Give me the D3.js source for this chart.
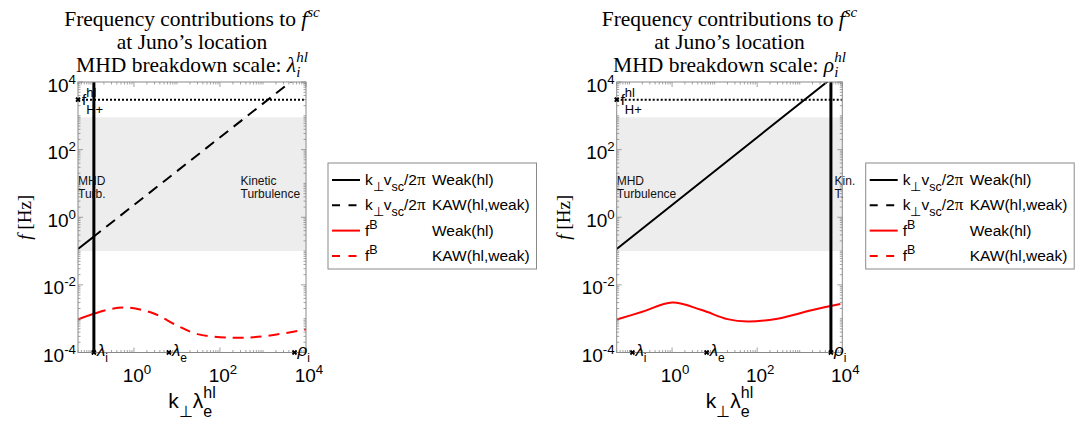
<!DOCTYPE html>
<html>
<head>
<meta charset="utf-8">
<script src="https://cdn.jsdelivr.net/npm/d3@7"></script>
<style>
  body { margin: 0; background: #fff; }
  svg { display: block; }
</style>
</head>
<body>
<div id="chart"></div>
<script>
// axis ranges and ticks
const xDomain = [0.05, 1e4];
const yDomain = [1e-4, 1e4];
const xTickValues = [1e0, 1e2, 1e4];
const yTickValues = [1e-4, 1e-2, 1e0, 1e2, 1e4];

// shaded turbulence band and H+ cyclotron frequency
const turbBand = [0.1, 900];
const fHplus = 3000;

// characteristic scales (k_perp * lambda_e)
const scaleNames = ["λ", "λ", "ρ"];
const scaleSubs = ["i", "e", "i"];
const scaleValues = [0.117, 6.5, 5400];

// k_perp v_sc / 2pi (Doppler shifted frequency)
const kvX = [0.05, 0.117, 5400];
const kvF = [0.115, 0.27, 12400];

// f^B curves
const redLeftX = [0.05, 0.117, 0.3, 0.8, 3, 10, 30, 200, 1000, 1e4];
const redLeftF = [9.5e-4, 1.4e-3, 1.95e-3, 2.1e-3, 1.4e-3, 6.3e-4, 3.5e-4, 2.75e-4, 3e-4, 4.8e-4];
const redRightX = [0.05, 0.2, 1, 5, 20, 60, 300, 2000, 9000];
const redRightF = [9.5e-4, 1.6e-3, 3e-3, 1.8e-3, 9.7e-4, 8.3e-4, 1e-3, 1.8e-3, 2.7e-3];

// legend text
const legendCol2 = ["Weak(hl)", "KAW(hl,weak)", "Weak(hl)", "KAW(hl,weak)"];

const SANS = "'Liberation Sans', Arial, Helvetica, sans-serif";
const SERIF = "'Liberation Serif', 'Times New Roman', serif";

const svg = d3.select("#chart").append("svg")
    .attr("width", 1084)
    .attr("height", 424)
    .style("background", "#fff");

// writes a run of text pieces into a <text>; pos is base / sup / sub,
// stack=true puts the piece under the previous one (sub below sup)
function rich(text, parts, size, o = {}) {
    const supOff = o.sup || -0.42 * size, subOff = o.sub || 0.32 * size, small = o.small || size * 0.7;
    let cur = 0, prev = null;
    parts.forEach(p => {
        const pos = p.pos || "base";
        const off = pos === "sup" ? supOff : pos === "sub" ? subOff : 0;
        const ts = text.append("tspan").attr("dy", off - cur).text(p.t);
        if (pos !== "base") ts.attr("font-size", small);
        if (p.italic) ts.attr("font-style", "italic");
        if (p.stack && prev) ts.attr("dx", -prev.node().getComputedTextLength());
        cur = off;
        prev = ts;
    });
    return text;
}

function drawPanel(cfg) {
    const x0 = cfg.left, x1 = cfg.right, yTop = 82, yBot = 352.5;
    const x = d3.scaleLog().domain(xDomain).range([x0, x1]);
    const y = d3.scaleLog().domain(yDomain).range([yBot, yTop]);
    const g = svg.append("g");

    const clipId = "clip-" + cfg.id;
    g.append("clipPath").attr("id", clipId)
      .append("rect").attr("x", x0).attr("y", yTop).attr("width", x1 - x0).attr("height", yBot - yTop);
    // solid region (x <= break) and dashed region (x > break)
    g.append("clipPath").attr("id", clipId + "-a")
      .append("rect").attr("x", x0).attr("y", yTop).attr("width", x(cfg.breakX) - x0).attr("height", yBot - yTop);
    g.append("clipPath").attr("id", clipId + "-b")
      .append("rect").attr("x", x(cfg.breakX)).attr("y", yTop).attr("width", Math.max(0, x1 - x(cfg.breakX))).attr("height", yBot - yTop);

    // gray band
    g.append("rect")
        .attr("x", x0).attr("width", x1 - x0)
        .attr("y", y(turbBand[1])).attr("height", y(turbBand[0]) - y(turbBand[1]))
        .attr("fill", "#ededed");

    const plot = g.append("g").attr("clip-path", `url(#${clipId})`);

    // H+ cyclotron frequency
    plot.append("line")
        .attr("x1", x0).attr("x2", x1)
        .attr("y1", y(fHplus)).attr("y2", y(fHplus))
        .attr("stroke", "#000").attr("stroke-width", 2).attr("stroke-dasharray", "2,2");

    const kvLine = d3.line().x((d, i) => x(kvX[i])).y(d => y(d));
    const redLine = d3.line().x(d => x(d[0])).y(d => y(d[1])).curve(d3.curveCatmullRom.alpha(0.5));
    const redPts = cfg.redX.map((v, i) => [v, cfg.redF[i]]);

    [["a", null], ["b", "11,7"]].forEach(([part, dash]) => {
        const sub = plot.append("g").attr("clip-path", `url(#${clipId}-${part})`);
        sub.append("path").attr("d", kvLine(kvF))
            .attr("fill", "none").attr("stroke", "#000").attr("stroke-width", 2)
            .attr("stroke-dasharray", dash);
        sub.append("path").attr("d", redLine(redPts))
            .attr("fill", "none").attr("stroke", "#ff0000").attr("stroke-width", 2)
            .attr("stroke-dasharray", dash);
    });

    // MHD breakdown scale
    plot.append("line")
        .attr("x1", x(cfg.breakLine)).attr("x2", x(cfg.breakLine))
        .attr("y1", yTop).attr("y2", yBot)
        .attr("stroke", "#000").attr("stroke-width", 3);

    // region annotations
    cfg.notes.forEach(n => {
        const t = g.append("text").attr("x", x(n.x)).attr("y", y(9))
            .attr("font-family", SANS).attr("font-size", 12).attr("fill", "#111");
        t.append("tspan").attr("x", x(n.x)).text(n.l1);
        t.append("tspan").attr("x", x(n.x)).attr("dy", 13).text(n.l2);
    });

    // axes box and ticks
    const axisColor = "#8a8a8a";
    g.append("rect").attr("x", x0).attr("y", yTop).attr("width", x1 - x0).attr("height", yBot - yTop)
        .attr("fill", "none").attr("stroke", axisColor).attr("stroke-width", 1);

    const ticks = g.append("g").attr("stroke", axisColor).attr("stroke-width", 0.8);
    x.ticks(60).forEach(v => {
        const major = xTickValues.some(t => Math.abs(Math.log10(t / v)) < 1e-6);
        const len = major ? 5 : 2.5;
        ticks.append("line").attr("x1", x(v)).attr("x2", x(v)).attr("y1", yBot).attr("y2", yBot - len);
        ticks.append("line").attr("x1", x(v)).attr("x2", x(v)).attr("y1", yTop).attr("y2", yTop + len);
    });
    y.ticks(80).forEach(v => {
        const major = yTickValues.some(t => Math.abs(Math.log10(t / v)) < 1e-6);
        const len = major ? 5 : 2.5;
        ticks.append("line").attr("y1", y(v)).attr("y2", y(v)).attr("x1", x0).attr("x2", x0 + len);
        ticks.append("line").attr("y1", y(v)).attr("y2", y(v)).attr("x1", x1).attr("x2", x1 - len);
    });

    // tick labels
    xTickValues.forEach(v => {
        const t = g.append("text").attr("x", x(v) + 3).attr("y", yBot + 29)
            .attr("text-anchor", "middle").attr("font-family", SANS).attr("font-size", 19);
        rich(t, [{ t: "10" }, { t: String(Math.round(Math.log10(v))), pos: "sup" }], 19);
    });
    yTickValues.forEach(v => {
        const t = g.append("text").attr("x", x0 - 2).attr("y", y(v) + 9.5)
            .attr("text-anchor", "end").attr("font-family", SANS).attr("font-size", 19);
        rich(t, [{ t: "10" }, { t: String(Math.round(Math.log10(v))), pos: "sup" }], 19);
    });

    // scale markers along the bottom axis
    scaleValues.forEach((v, i) => {
        const px = x(v);
        g.append("path").attr("d", d3.symbol(d3.symbolCross, 18)())
            .attr("transform", `translate(${px},${yBot}) rotate(45)`).attr("fill", "#000");
        const t = g.append("text").attr("x", px + 3).attr("y", yBot + 3)
            .attr("font-family", SANS).attr("font-size", 17);
        rich(t, [{ t: scaleNames[i], italic: true }, { t: scaleSubs[i], pos: "sub" }], 17, { sub: 6, small: 12 });
    });

    // f_H+ marker and label
    g.append("path").attr("d", d3.symbol(d3.symbolCross, 18)())
        .attr("transform", `translate(${x0},${y(fHplus)}) rotate(45)`).attr("fill", "#000");
    const fl = g.append("text").attr("x", x0 + 4).attr("y", y(fHplus) + 5)
        .attr("font-family", SANS).attr("font-size", 15);
    rich(fl, [{ t: "f" }, { t: "hl", pos: "sup" }, { t: "H+", pos: "sub", stack: true }], 15,
         { sup: -8, sub: 9, small: 13 });

    // title
    const cx = (x0 + x1) / 2, tsz = 21.5;
    const t1 = g.append("text").attr("x", cx).attr("y", 26).attr("text-anchor", "middle")
        .attr("font-family", SERIF).attr("font-size", tsz);
    rich(t1, [{ t: "Frequency contributions to " }, { t: "f", italic: true }, { t: "sc", pos: "sup", italic: true }], tsz);
    g.append("text").attr("x", cx).attr("y", 49).attr("text-anchor", "middle")
        .attr("font-family", SERIF).attr("font-size", tsz).text("at Juno’s location");
    const t3 = g.append("text").attr("x", cx).attr("y", 72).attr("text-anchor", "middle")
        .attr("font-family", SERIF).attr("font-size", tsz);
    rich(t3, [{ t: "MHD breakdown scale: " }, { t: cfg.titleSym, italic: true },
              { t: "hl", pos: "sup", italic: true }, { t: "i", pos: "sub", italic: true, stack: true }], tsz,
         { sup: -10, sub: 5 });

    // axis labels
    const yl = g.append("text").attr("transform", `translate(${x0 - 47},${(yTop + yBot) / 2}) rotate(-90)`)
        .attr("text-anchor", "middle").attr("font-family", SERIF).attr("font-size", 19);
    rich(yl, [{ t: "f", italic: true }, { t: " [Hz]" }], 19);
    const xl = g.append("text").attr("x", cx).attr("y", 408).attr("text-anchor", "middle")
        .attr("font-family", SANS).attr("font-size", 21);
    rich(xl, [{ t: "k" }, { t: "⊥", pos: "sub" }, { t: "λ" }, { t: "hl", pos: "sup" }, { t: "e", pos: "sub", stack: true }], 21,
         { sup: -10, sub: 9, small: 16 });

    // legend
    const lx = cfg.legendX, ly = 163;
    const lg = svg.append("g");
    lg.append("rect").attr("x", lx).attr("y", ly).attr("width", 208.5).attr("height", 106)
        .attr("fill", "#fff").attr("stroke", "#8a8a8a").attr("stroke-width", 1);
    const rows = [
        { color: "#000", dash: null, kv: true },
        { color: "#000", dash: "8,8.5", kv: true },
        { color: "#ff0000", dash: null, kv: false },
        { color: "#ff0000", dash: "8,8.5", kv: false }
    ];
    rows.forEach((r, i) => {
        const ry = ly + 17 + i * 25.3;
        lg.append("line").attr("x1", lx + 4).attr("x2", lx + 32).attr("y1", ry).attr("y2", ry)
            .attr("stroke", r.color).attr("stroke-width", 2).attr("stroke-dasharray", r.dash);
        const t = lg.append("text").attr("x", lx + 37).attr("y", ry + 5)
            .attr("font-family", SANS).attr("font-size", 15.5);
        if (r.kv) {
            rich(t, [{ t: "k" }, { t: "⊥", pos: "sub" }, { t: "v" }, { t: "sc", pos: "sub" }, { t: "/2" }], 15.5,
                 { sub: 6, small: 12.5 });
            t.append("tspan").attr("font-family", SERIF).attr("font-size", 17).text("π");
        } else {
            rich(t, [{ t: "f" }, { t: "B", pos: "sup" }], 15.5, { sup: -7, small: 12.5 });
        }
        lg.append("text").attr("x", lx + 104).attr("y", ry + 5)
            .attr("font-family", SANS).attr("font-size", 15.5).text(legendCol2[i]);
    });
}

drawPanel({
    id: "l", left: 78, right: 306,
    breakX: scaleValues[0], breakLine: scaleValues[0],
    redX: redLeftX, redF: redLeftF,
    titleSym: "λ",
    notes: [{ x: 0.05, l1: "MHD", l2: "Turb." }, { x: 300, l1: "Kinetic", l2: "Turbulence" }],
    legendX: 328
});
drawPanel({
    id: "r", left: 616.7, right: 842.3,
    breakX: xDomain[1], breakLine: scaleValues[2],
    redX: redRightX, redF: redRightF,
    titleSym: "ρ",
    notes: [{ x: 0.05, l1: "MHD", l2: "Turbulence" }, { x: 6600, l1: "Kin.", l2: "T." }],
    legendX: 865.7
});
</script>
</body>
</html>
